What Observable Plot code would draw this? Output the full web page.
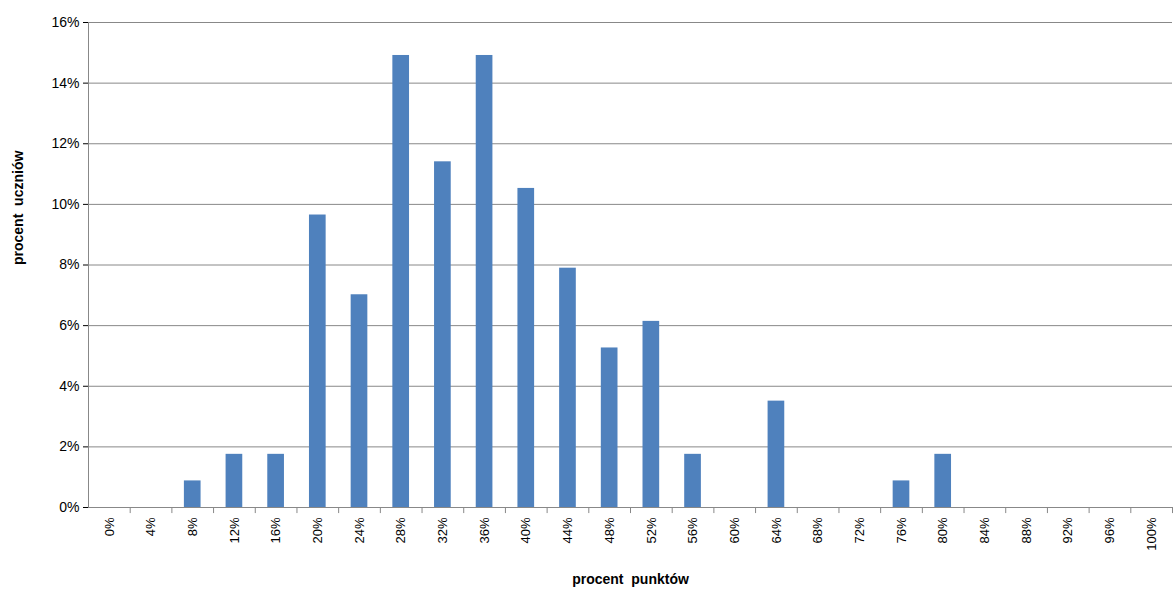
<!DOCTYPE html>
<html><head><meta charset="utf-8">
<script src="https://cdn.jsdelivr.net/npm/d3@7"></script>
<script src="https://cdn.jsdelivr.net/npm/@observablehq/plot@0.6"></script>
<style>body{margin:0;background:#fff;font-family:"Liberation Sans",Arial,sans-serif}</style>
</head><body><div id="chart"></div>
<script>
const categories = d3.range(0, 101, 4).map(d => d + "%");
// share of students (%), multiples of 1/114
const values = [0,0,0.877,1.754,1.754,9.649,7.018,14.912,11.404,14.912,10.526,7.895,5.263,6.140,1.754,0,3.509,0,0,0.877,1.754,0,0,0,0,0];
const data = categories.map((c, i) => ({cat: c, v: values[i] / 100}));
const step = (1173 - 1 - 88) / categories.length;

document.querySelector("#chart").append(Plot.plot({
  width: 1173, height: 593,
  marginLeft: 88, marginRight: 1, marginTop: 22, marginBottom: 86,
  style: {fontFamily: "Liberation Sans, Arial, sans-serif", fontSize: "13px", color: "#000"},
  x: {domain: categories, paddingInner: 0.6, paddingOuter: 0.3, round: false, label: null},
  y: {domain: [0, 0.16], label: null},
  marks: [
    Plot.gridY(d3.range(0.02, 0.161, 0.02), {stroke: "#888", strokeOpacity: 1}),
    Plot.barY(data, {x: "cat", y: "v", fill: "#4f81bd"}),
    Plot.axisY(d3.range(0, 0.161, 0.02), {tickFormat: d => Math.round(d * 100) + "%", tickSize: 5, fontSize: 14, tickPadding: 4}),
    Plot.axisX({tickRotate: -90, tickSize: 0, tickPadding: 10, fontSize: 13}),
    Plot.ruleX([categories[0]], {x: d => d, dx: -step / 2, stroke: "#888"}),
    Plot.ruleY([0], {stroke: "#888"}),
    Plot.ruleX(categories, {x: d => d, dx: step / 2, y1: 0, y2: -0.002, stroke: "#888"}),
    Plot.text(["procent  uczniów"], {frameAnchor: "left", dx: -70, rotate: -90, fontWeight: "bold", fontSize: 14}),
    Plot.text(["procent  punktów"], {frameAnchor: "bottom", dy: 76, fontWeight: "bold", fontSize: 14})
  ]
}));
</script></body></html>
